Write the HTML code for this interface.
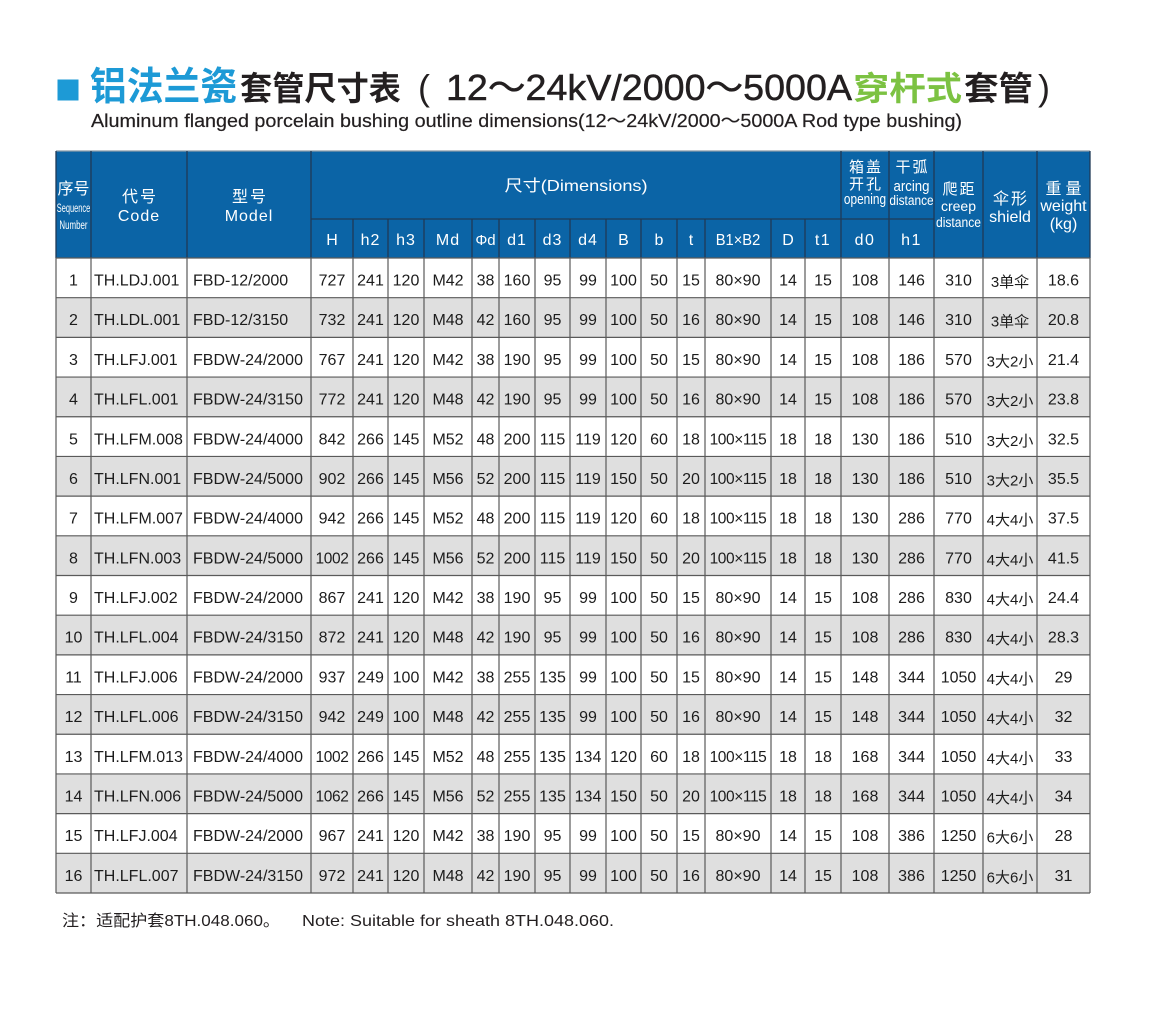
<!DOCTYPE html>
<html><head><meta charset="utf-8">
<style>
html,body{margin:0;padding:0;background:#fff;}
svg{display:block;}
.f{font-family:"Liberation Sans","Noto Sans CJK SC",sans-serif;}
.h text{fill:#fff;text-anchor:middle;font-family:"Liberation Sans","Noto Sans CJK SC",sans-serif;}
.d text{fill:#1c1c1c;text-anchor:middle;font-size:16px;font-family:"Liberation Sans","Noto Sans CJK SC",sans-serif;}
.d text.l{text-anchor:start;}
.d text.s{font-size:15px;}
.d text.n{font-size:15.5px;letter-spacing:-0.4px;}
</style></head>
<body>
<svg width="1152" height="1020" viewBox="0 0 1152 1020" xmlns="http://www.w3.org/2000/svg">
<!-- Title -->
<rect x="57.5" y="79.5" width="21" height="21" fill="#1d9ad6"/>
<text class="f" x="90" y="100" font-size="39" font-weight="700" fill="#1d9ad6" textLength="147" lengthAdjust="spacingAndGlyphs">铝法兰瓷</text>
<text class="f" x="240" y="100" font-size="33" font-weight="700" fill="#231f20" textLength="161" lengthAdjust="spacingAndGlyphs">套管尺寸表</text>
<text class="f" x="418" y="100" font-size="36" fill="#231f20">(</text>
<text class="f" x="446" y="100" font-size="36" fill="#231f20" stroke="#231f20" stroke-width="0.5" textLength="406" lengthAdjust="spacingAndGlyphs">12～24kV/2000～5000A</text>
<text class="f" x="853" y="100" font-size="33" font-weight="700" fill="#7cc242" textLength="109" lengthAdjust="spacingAndGlyphs">穿杆式</text>
<text class="f" x="964" y="100" font-size="33" font-weight="700" fill="#231f20" textLength="69" lengthAdjust="spacingAndGlyphs">套管</text>
<text class="f" x="1038" y="100" font-size="36" fill="#231f20">)</text>
<text class="f" x="91" y="127" font-size="18" fill="#231f20" stroke="#231f20" stroke-width="0.2" textLength="871" lengthAdjust="spacingAndGlyphs">Aluminum flanged porcelain bushing outline dimensions(12～24kV/2000～5000A  Rod type bushing)</text>

<!-- Header -->
<rect x="56" y="151" width="1034" height="107" fill="#0b64a6"/>
<g class="h">
<text x="73.5" y="194" font-size="16" textLength="32" lengthAdjust="spacingAndGlyphs">序号</text>
<text transform="translate(73.5,212) scale(0.62,1)" font-size="12">Sequence</text>
<text transform="translate(73.5,229) scale(0.66,1)" font-size="12">Number</text>
<text x="139" y="202" font-size="16" textLength="34" lengthAdjust="spacing">代号</text>
<text x="139" y="221" font-size="16" letter-spacing="1">Code</text>
<text x="249" y="202" font-size="16" textLength="34" lengthAdjust="spacing">型号</text>
<text x="249" y="221" font-size="16" letter-spacing="1">Model</text>
<text x="576" y="191" font-size="16" textLength="143" lengthAdjust="spacingAndGlyphs">尺寸(Dimensions)</text>
<g font-size="16">
<text x="332" y="245">H</text>
<text x="370.5" y="245" letter-spacing="1">h2</text>
<text x="406" y="245" letter-spacing="1">h3</text>
<text x="448" y="245" letter-spacing="1">Md</text>
<text x="485.5" y="245" font-size="15">Φd</text>
<text x="517" y="245" letter-spacing="1">d1</text>
<text x="552.5" y="245" letter-spacing="1">d3</text>
<text x="588" y="245" letter-spacing="1">d4</text>
<text x="623.5" y="245">B</text>
<text x="659" y="245">b</text>
<text x="691" y="245">t</text>
<text transform="translate(738,245) scale(0.92,1)">B1×B2</text>
<text x="788" y="245">D</text>
<text x="823" y="245" letter-spacing="1.5">t1</text>
<text x="865" y="245" letter-spacing="1.5">d0</text>
<text x="911.5" y="245" letter-spacing="1.5">h1</text>
</g>
<text x="865" y="172" font-size="15" textLength="32" lengthAdjust="spacing">箱盖</text>
<text x="865" y="189" font-size="15" textLength="32" lengthAdjust="spacing">开孔</text>
<text transform="translate(865,204) scale(0.79,1)" font-size="15">opening</text>
<text x="911.5" y="172" font-size="15" textLength="32" lengthAdjust="spacing">干弧</text>
<text transform="translate(911.5,191) scale(0.88,1)" font-size="15">arcing</text>
<text transform="translate(911.5,205) scale(0.85,1)" font-size="14">distance</text>
<text x="958.5" y="194" font-size="15" textLength="32" lengthAdjust="spacing">爬距</text>
<text x="958.5" y="211" font-size="14">creep</text>
<text transform="translate(958.5,227) scale(0.865,1)" font-size="14">distance</text>
<text x="1010" y="204" font-size="16" textLength="34" lengthAdjust="spacing">伞形</text>
<text x="1010" y="222" font-size="16">shield</text>
<text x="1063.5" y="194" font-size="16" textLength="36" lengthAdjust="spacing">重量</text>
<text x="1063.5" y="211" font-size="16">weight</text>
<text x="1063.5" y="229" font-size="16">(kg)</text>
</g>
<g stroke="#1f3a56" stroke-width="1.3" fill="none">
<line x1="56" y1="151" x2="1090" y2="151" stroke="#8a9aa8"/>
<path d="M56 151V258M91 151V258M187 151V258M311 151V258M841 151V258M889 151V258M934 151V258M983 151V258M1037 151V258M1090 151V258"/>
<path d="M311 219H934"/>
<path d="M353 219V258M388 219V258M424 219V258M472 219V258M499 219V258M535 219V258M570 219V258M606 219V258M641 219V258M677 219V258M705 219V258M771 219V258M805 219V258"/>
</g>

<!-- Data row shading -->
<g fill="#dfdfdf">
<rect x="56" y="297.69" width="1034" height="39.69"/>
<rect x="56" y="377.06" width="1034" height="39.69"/>
<rect x="56" y="456.44" width="1034" height="39.69"/>
<rect x="56" y="535.81" width="1034" height="39.69"/>
<rect x="56" y="615.19" width="1034" height="39.69"/>
<rect x="56" y="694.56" width="1034" height="39.69"/>
<rect x="56" y="773.94" width="1034" height="39.69"/>
<rect x="56" y="853.31" width="1034" height="39.69"/>
</g>

<!-- Data grid -->
<g stroke="#5a5a5a" stroke-width="1.2" fill="none">
<path d="M56 258V893M91 258V893M187 258V893M311 258V893M353 258V893M388 258V893M424 258V893M472 258V893M499 258V893M535 258V893M570 258V893M606 258V893M641 258V893M677 258V893M705 258V893M771 258V893M805 258V893M841 258V893M889 258V893M934 258V893M983 258V893M1037 258V893M1090 258V893"/>
<path d="M56 258H1090M56 297.69H1090M56 337.38H1090M56 377.06H1090M56 416.75H1090M56 456.44H1090M56 496.13H1090M56 535.81H1090M56 575.5H1090M56 615.19H1090M56 654.88H1090M56 694.56H1090M56 734.25H1090M56 773.94H1090M56 813.63H1090M56 853.31H1090M56 893H1090"/>
</g>

<g class="d">
<g transform="translate(0,285.5)"><text x="73.5">1</text><text class="l" x="94">TH.LDJ.001</text><text class="l" x="193">FBD-12/2000</text><text x="332">727</text><text x="370.5">241</text><text x="406">120</text><text x="448">M42</text><text x="485.5">38</text><text x="517">160</text><text x="552.5">95</text><text x="588">99</text><text x="623.5">100</text><text x="659">50</text><text x="691">15</text><text x="738">80×90</text><text x="788">14</text><text x="823">15</text><text x="865">108</text><text x="911.5">146</text><text x="958.5">310</text><text class="s" x="1010" y="1.5">3单伞</text><text x="1063.5">18.6</text></g>
<g transform="translate(0,325.19)"><text x="73.5">2</text><text class="l" x="94">TH.LDL.001</text><text class="l" x="193">FBD-12/3150</text><text x="332">732</text><text x="370.5">241</text><text x="406">120</text><text x="448">M48</text><text x="485.5">42</text><text x="517">160</text><text x="552.5">95</text><text x="588">99</text><text x="623.5">100</text><text x="659">50</text><text x="691">16</text><text x="738">80×90</text><text x="788">14</text><text x="823">15</text><text x="865">108</text><text x="911.5">146</text><text x="958.5">310</text><text class="s" x="1010" y="1.5">3单伞</text><text x="1063.5">20.8</text></g>
<g transform="translate(0,364.88)"><text x="73.5">3</text><text class="l" x="94">TH.LFJ.001</text><text class="l" x="193">FBDW-24/2000</text><text x="332">767</text><text x="370.5">241</text><text x="406">120</text><text x="448">M42</text><text x="485.5">38</text><text x="517">190</text><text x="552.5">95</text><text x="588">99</text><text x="623.5">100</text><text x="659">50</text><text x="691">15</text><text x="738">80×90</text><text x="788">14</text><text x="823">15</text><text x="865">108</text><text x="911.5">186</text><text x="958.5">570</text><text class="s" x="1010" y="1.5">3大2小</text><text x="1063.5">21.4</text></g>
<g transform="translate(0,404.56)"><text x="73.5">4</text><text class="l" x="94">TH.LFL.001</text><text class="l" x="193">FBDW-24/3150</text><text x="332">772</text><text x="370.5">241</text><text x="406">120</text><text x="448">M48</text><text x="485.5">42</text><text x="517">190</text><text x="552.5">95</text><text x="588">99</text><text x="623.5">100</text><text x="659">50</text><text x="691">16</text><text x="738">80×90</text><text x="788">14</text><text x="823">15</text><text x="865">108</text><text x="911.5">186</text><text x="958.5">570</text><text class="s" x="1010" y="1.5">3大2小</text><text x="1063.5">23.8</text></g>
<g transform="translate(0,444.25)"><text x="73.5">5</text><text class="l" x="94">TH.LFM.008</text><text class="l" x="193">FBDW-24/4000</text><text x="332">842</text><text x="370.5">266</text><text x="406">145</text><text x="448">M52</text><text x="485.5">48</text><text x="517">200</text><text x="552.5">115</text><text x="588">119</text><text x="623.5">120</text><text x="659">60</text><text x="691">18</text><text class="n" x="738">100×115</text><text x="788">18</text><text x="823">18</text><text x="865">130</text><text x="911.5">186</text><text x="958.5">510</text><text class="s" x="1010" y="1.5">3大2小</text><text x="1063.5">32.5</text></g>
<g transform="translate(0,483.94)"><text x="73.5">6</text><text class="l" x="94">TH.LFN.001</text><text class="l" x="193">FBDW-24/5000</text><text x="332">902</text><text x="370.5">266</text><text x="406">145</text><text x="448">M56</text><text x="485.5">52</text><text x="517">200</text><text x="552.5">115</text><text x="588">119</text><text x="623.5">150</text><text x="659">50</text><text x="691">20</text><text class="n" x="738">100×115</text><text x="788">18</text><text x="823">18</text><text x="865">130</text><text x="911.5">186</text><text x="958.5">510</text><text class="s" x="1010" y="1.5">3大2小</text><text x="1063.5">35.5</text></g>
<g transform="translate(0,523.63)"><text x="73.5">7</text><text class="l" x="94">TH.LFM.007</text><text class="l" x="193">FBDW-24/4000</text><text x="332">942</text><text x="370.5">266</text><text x="406">145</text><text x="448">M52</text><text x="485.5">48</text><text x="517">200</text><text x="552.5">115</text><text x="588">119</text><text x="623.5">120</text><text x="659">60</text><text x="691">18</text><text class="n" x="738">100×115</text><text x="788">18</text><text x="823">18</text><text x="865">130</text><text x="911.5">286</text><text x="958.5">770</text><text class="s" x="1010" y="1.5">4大4小</text><text x="1063.5">37.5</text></g>
<g transform="translate(0,563.31)"><text x="73.5">8</text><text class="l" x="94">TH.LFN.003</text><text class="l" x="193">FBDW-24/5000</text><text class="n" x="332">1002</text><text x="370.5">266</text><text x="406">145</text><text x="448">M56</text><text x="485.5">52</text><text x="517">200</text><text x="552.5">115</text><text x="588">119</text><text x="623.5">150</text><text x="659">50</text><text x="691">20</text><text class="n" x="738">100×115</text><text x="788">18</text><text x="823">18</text><text x="865">130</text><text x="911.5">286</text><text x="958.5">770</text><text class="s" x="1010" y="1.5">4大4小</text><text x="1063.5">41.5</text></g>
<g transform="translate(0,603)"><text x="73.5">9</text><text class="l" x="94">TH.LFJ.002</text><text class="l" x="193">FBDW-24/2000</text><text x="332">867</text><text x="370.5">241</text><text x="406">120</text><text x="448">M42</text><text x="485.5">38</text><text x="517">190</text><text x="552.5">95</text><text x="588">99</text><text x="623.5">100</text><text x="659">50</text><text x="691">15</text><text x="738">80×90</text><text x="788">14</text><text x="823">15</text><text x="865">108</text><text x="911.5">286</text><text x="958.5">830</text><text class="s" x="1010" y="1.5">4大4小</text><text x="1063.5">24.4</text></g>
<g transform="translate(0,642.69)"><text x="73.5">10</text><text class="l" x="94">TH.LFL.004</text><text class="l" x="193">FBDW-24/3150</text><text x="332">872</text><text x="370.5">241</text><text x="406">120</text><text x="448">M48</text><text x="485.5">42</text><text x="517">190</text><text x="552.5">95</text><text x="588">99</text><text x="623.5">100</text><text x="659">50</text><text x="691">16</text><text x="738">80×90</text><text x="788">14</text><text x="823">15</text><text x="865">108</text><text x="911.5">286</text><text x="958.5">830</text><text class="s" x="1010" y="1.5">4大4小</text><text x="1063.5">28.3</text></g>
<g transform="translate(0,682.38)"><text x="73.5">11</text><text class="l" x="94">TH.LFJ.006</text><text class="l" x="193">FBDW-24/2000</text><text x="332">937</text><text x="370.5">249</text><text x="406">100</text><text x="448">M42</text><text x="485.5">38</text><text x="517">255</text><text x="552.5">135</text><text x="588">99</text><text x="623.5">100</text><text x="659">50</text><text x="691">15</text><text x="738">80×90</text><text x="788">14</text><text x="823">15</text><text x="865">148</text><text x="911.5">344</text><text x="958.5">1050</text><text class="s" x="1010" y="1.5">4大4小</text><text x="1063.5">29</text></g>
<g transform="translate(0,722.06)"><text x="73.5">12</text><text class="l" x="94">TH.LFL.006</text><text class="l" x="193">FBDW-24/3150</text><text x="332">942</text><text x="370.5">249</text><text x="406">100</text><text x="448">M48</text><text x="485.5">42</text><text x="517">255</text><text x="552.5">135</text><text x="588">99</text><text x="623.5">100</text><text x="659">50</text><text x="691">16</text><text x="738">80×90</text><text x="788">14</text><text x="823">15</text><text x="865">148</text><text x="911.5">344</text><text x="958.5">1050</text><text class="s" x="1010" y="1.5">4大4小</text><text x="1063.5">32</text></g>
<g transform="translate(0,761.75)"><text x="73.5">13</text><text class="l" x="94">TH.LFM.013</text><text class="l" x="193">FBDW-24/4000</text><text class="n" x="332">1002</text><text x="370.5">266</text><text x="406">145</text><text x="448">M52</text><text x="485.5">48</text><text x="517">255</text><text x="552.5">135</text><text x="588">134</text><text x="623.5">120</text><text x="659">60</text><text x="691">18</text><text class="n" x="738">100×115</text><text x="788">18</text><text x="823">18</text><text x="865">168</text><text x="911.5">344</text><text x="958.5">1050</text><text class="s" x="1010" y="1.5">4大4小</text><text x="1063.5">33</text></g>
<g transform="translate(0,801.44)"><text x="73.5">14</text><text class="l" x="94">TH.LFN.006</text><text class="l" x="193">FBDW-24/5000</text><text class="n" x="332">1062</text><text x="370.5">266</text><text x="406">145</text><text x="448">M56</text><text x="485.5">52</text><text x="517">255</text><text x="552.5">135</text><text x="588">134</text><text x="623.5">150</text><text x="659">50</text><text x="691">20</text><text class="n" x="738">100×115</text><text x="788">18</text><text x="823">18</text><text x="865">168</text><text x="911.5">344</text><text x="958.5">1050</text><text class="s" x="1010" y="1.5">4大4小</text><text x="1063.5">34</text></g>
<g transform="translate(0,841.13)"><text x="73.5">15</text><text class="l" x="94">TH.LFJ.004</text><text class="l" x="193">FBDW-24/2000</text><text x="332">967</text><text x="370.5">241</text><text x="406">120</text><text x="448">M42</text><text x="485.5">38</text><text x="517">190</text><text x="552.5">95</text><text x="588">99</text><text x="623.5">100</text><text x="659">50</text><text x="691">15</text><text x="738">80×90</text><text x="788">14</text><text x="823">15</text><text x="865">108</text><text x="911.5">386</text><text x="958.5">1250</text><text class="s" x="1010" y="1.5">6大6小</text><text x="1063.5">28</text></g>
<g transform="translate(0,880.81)"><text x="73.5">16</text><text class="l" x="94">TH.LFL.007</text><text class="l" x="193">FBDW-24/3150</text><text x="332">972</text><text x="370.5">241</text><text x="406">120</text><text x="448">M48</text><text x="485.5">42</text><text x="517">190</text><text x="552.5">95</text><text x="588">99</text><text x="623.5">100</text><text x="659">50</text><text x="691">16</text><text x="738">80×90</text><text x="788">14</text><text x="823">15</text><text x="865">108</text><text x="911.5">386</text><text x="958.5">1250</text><text class="s" x="1010" y="1.5">6大6小</text><text x="1063.5">31</text></g>
</g>

<!-- Note -->
<text class="f" x="62" y="926" font-size="16" fill="#231f20" textLength="218" lengthAdjust="spacingAndGlyphs">注：适配护套8TH.048.060。</text>
<text class="f" x="302" y="926" font-size="16" fill="#231f20" textLength="312" lengthAdjust="spacingAndGlyphs">Note: Suitable for sheath 8TH.048.060.</text>
</svg>
</body></html>
